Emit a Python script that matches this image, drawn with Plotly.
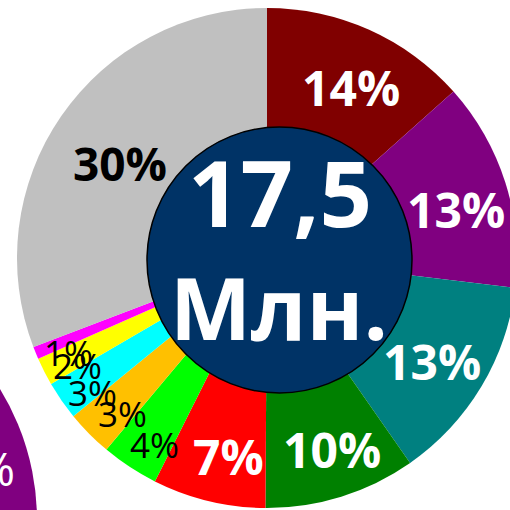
import math
import plotly.graph_objects as go

# ---- data ----
categories = ["A", "B", "C", "D", "E", "F", "G", "H", "I", "J", "K"]
shares = [13.4, 13.5, 13.4, 9.8, 7.3, 3.7, 3.0, 2.5, 1.8, 0.8, 30.8]
labels = ["14%", "13%", "13%", "10%", "7%", "4%", "3%", "3%", "2%", "1%", "30%"]
center_value = "17,5"
center_unit = "Млн."

# ---- styles ----
colors = ["#800000", "#800080", "#008080", "#008000", "#FF0000", "#00FF00",
          "#FFC000", "#00FFFF", "#FFFF00", "#FF00FF", "#C0C0C0"]
label_colors = ["white"] * 5 + ["black"] * 6
label_bold = [True] * 5 + [False] * 5 + [True]
label_size = [48] * 5 + [35] * 5 + [46]
label_rfac = [0.76, 0.78, 0.78, 0.81, 0.81, 0.87, 0.85, 0.88, 0.87, 0.88, 0.70]
label_dang = [2, 3, 1, -1.4, -2.5, -2.3, -2.4, -2.9, -2.5, -3.1, -1.6]

W, H = 534, 516
CX, CY, R = 267, 258, 250
FONT = "Open Sans"

fig = go.Figure()
fig.add_trace(go.Pie(
    labels=categories, values=shares, sort=False, direction="clockwise",
    rotation=0, marker=dict(colors=colors, line=dict(width=0)),
    textinfo="none", hoverinfo="none", showlegend=False,
    domain=dict(x=[0, 1], y=[(H - (CY + R)) / H, (H - (CY - R)) / H]),
))

annotations = []
total = sum(shares)
cum = 0.0
for i, v in enumerate(shares):
    ang = math.radians(360.0 * (cum + v / 2) / total + label_dang[i])
    cum += v
    px = CX + label_rfac[i] * R * math.sin(ang)
    py = CY - label_rfac[i] * R * math.cos(ang)
    txt = f"<b>{labels[i]}</b>" if label_bold[i] else labels[i]
    annotations.append(dict(
        x=px / W, y=1 - py / H, xref="paper", yref="paper", text=txt,
        showarrow=False, xanchor="center", yanchor="middle",
        font=dict(family=FONT, size=label_size[i], color=label_colors[i]),
    ))

# center text
annotations.append(dict(x=280 / W, y=1 - 191 / H, xref="paper", yref="paper",
                        text=f"<b>{center_value}</b>", showarrow=False,
                        xanchor="center", yanchor="middle",
                        font=dict(family=FONT, size=92, color="white")))
annotations.append(dict(x=279 / W, y=1 - 306 / H, xref="paper", yref="paper",
                        text=f"<b>{center_unit}</b>", showarrow=False,
                        xanchor="center", yanchor="middle",
                        font=dict(family=FONT, size=86, color="white")))
# partial neighbour label
annotations.append(dict(x=17 / W, y=1 - 468 / H, xref="paper", yref="paper",
                        text="%", showarrow=False, xanchor="right", yanchor="middle",
                        font=dict(family=FONT, size=46, color="white")))

shapes = [
    # neighbouring chart fragment (bottom-left)
    dict(type="circle", xref="paper", yref="paper",
         x0=(-213 - 250) / W, x1=(-213 + 250) / W,
         y0=1 - (520 + 250) / H, y1=1 - (520 - 250) / H,
         fillcolor="#800080", line=dict(width=0), layer="below"),
    # center disc
    dict(type="circle", xref="paper", yref="paper",
         x0=147 / W, x1=412 / W, y0=1 - 393 / H, y1=1 - 127 / H,
         fillcolor="#003366", line=dict(color="black", width=1.5), layer="above"),
]

fig.update_layout(
    width=W, height=H, margin=dict(l=0, r=0, t=0, b=0),
    paper_bgcolor="white", plot_bgcolor="white",
    annotations=annotations, shapes=shapes,
)

fig.write_html(
    "out.html",
    config={"displayModeBar": False},
    post_script="document.body.style.margin='0';document.body.style.overflow='hidden';"
                "document.documentElement.style.overflow='hidden';",
)
